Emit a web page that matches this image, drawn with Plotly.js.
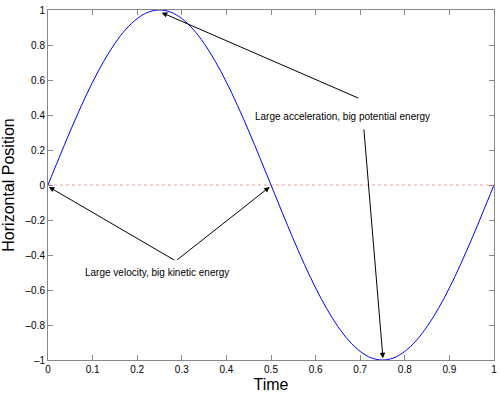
<!DOCTYPE html>
<html>
<head>
<meta charset="utf-8">
<script src="https://cdn.plot.ly/plotly-3.0.1.min.js"></script>
<style>html,body{margin:0;padding:0;background:#fff;}#chart{width:501px;height:396px;}</style>
</head>
<body>
<div id="chart"></div>
<script>
// Time samples and horizontal position
var time = [0,0.025,0.05,0.075,0.1,0.125,0.15,0.175,0.2,0.225,0.25,0.275,0.3,0.325,0.35,0.375,0.4,0.425,0.45,0.475,0.5,
            0.525,0.55,0.575,0.6,0.625,0.65,0.675,0.7,0.725,0.75,0.775,0.8,0.825,0.85,0.875,0.9,0.925,0.95,0.975,1];
var position = [0,0.156,0.309,0.454,0.588,0.707,0.809,0.891,0.951,0.988,1,0.988,0.951,0.891,0.809,0.707,0.588,0.454,0.309,0.156,0,
                -0.156,-0.309,-0.454,-0.588,-0.707,-0.809,-0.891,-0.951,-0.988,-1,-0.988,-0.951,-0.891,-0.809,-0.707,-0.588,-0.454,-0.309,-0.156,0];
var xTicks = [0,0.1,0.2,0.3,0.4,0.5,0.6,0.7,0.8,0.9,1];
var xTickLabels = ['0','0.1','0.2','0.3','0.4','0.5','0.6','0.7','0.8','0.9','1'];
var yTicks = [-1,-0.8,-0.6,-0.4,-0.2,0,0.2,0.4,0.6,0.8,1];
var yTickLabels = ['\u20131','\u20130.8','\u20130.6','\u20130.4','\u20130.2','0','0.2','0.4','0.6','0.8','1'];
var noteTexts = ['Large velocity, big kinetic energy','Large acceleration, big potential energy'];

var font = 'Liberation Sans, Arial, Helvetica, sans-serif';

var trace = {
  x: time, y: position, type: 'scatter', mode: 'lines',
  line: {color: '#0000ff', width: 1, shape: 'spline', smoothing: 1},
  hoverinfo: 'skip', showlegend: false
};

function arrow(hx, hy, tx, ty) {
  return {x: hx, y: hy, ax: tx, ay: ty, xref: 'x', yref: 'y', axref: 'x', ayref: 'y',
          text: '', showarrow: true, arrowhead: 2, arrowsize: 1.1, arrowwidth: 1,
          arrowcolor: '#000', standoff: 0, startstandoff: 0};
}

var annotations = [
  arrow(0.002, -0.011, 0.2865, -0.434),
  arrow(0.497, -0.011, 0.2865, -0.434),
  arrow(0.255, 0.985, 0.699, 0.493),
  arrow(0.751, -0.99, 0.708, 0.326),
  {x: 0.244, y: -0.501, xref: 'x', yref: 'y', text: noteTexts[0], showarrow: false,
   font: {family: font, size: 10, color: '#000'}},
  {x: 0.661, y: 0.394, xref: 'x', yref: 'y', text: noteTexts[1], showarrow: false,
   font: {family: font, size: 10, color: '#000'}}
];

var layout = {
  width: 501, height: 396,
  margin: {l: 48, r: 7, t: 10, b: 36, pad: 0},
  paper_bgcolor: '#fff', plot_bgcolor: '#fff',
  font: {family: font, size: 10, color: '#000'},
  xaxis: {
    range: [0, 1], tickvals: xTicks, ticktext: xTickLabels,
    ticks: 'inside', ticklen: 5, tickcolor: '#888', tickwidth: 1,
    showline: true, linecolor: '#888', linewidth: 1, mirror: 'ticks',
    showgrid: false, zeroline: false,
    tickfont: {family: font, size: 10, color: '#000'},
    title: {text: 'Time', font: {family: font, size: 16, color: '#000'}, standoff: 4},
    automargin: false
  },
  yaxis: {
    range: [-1, 1], tickvals: yTicks, ticktext: yTickLabels,
    ticks: 'inside', ticklen: 5, tickcolor: '#888', tickwidth: 1,
    showline: true, linecolor: '#888', linewidth: 1, mirror: 'ticks',
    showgrid: false, zeroline: false,
    tickfont: {family: font, size: 10, color: '#000'},
    title: {text: 'Horizontal Position', font: {family: font, size: 16, color: '#000'}, standoff: 8},
    automargin: false
  },
  shapes: [{type: 'line', xref: 'paper', yref: 'y', x0: 0, x1: 1, y0: 0, y1: 0,
            line: {color: '#f2a0a0', width: 1, dash: 'dot'}, layer: 'below'}],
  annotations: annotations
};

Plotly.newPlot('chart', [trace], layout, {displayModeBar: false, staticPlot: true});
</script>
</body>
</html>
